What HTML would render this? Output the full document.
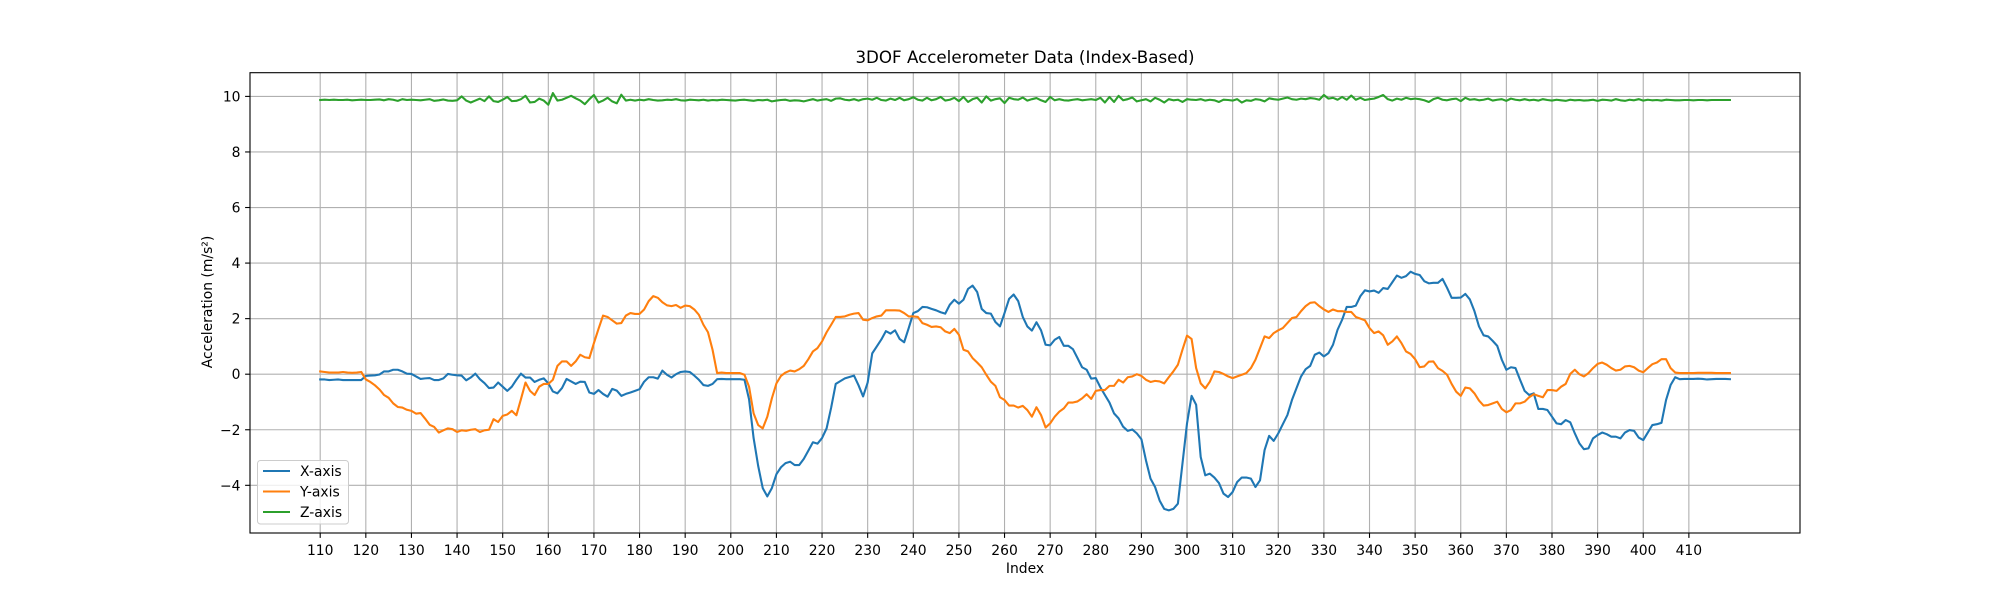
<!DOCTYPE html>
<html><head><meta charset="utf-8"><style>
html,body{margin:0;padding:0;background:#fff;}
svg text{font-family:"DejaVu Sans","Liberation Sans",sans-serif;fill:#000;}
</style></head><body>
<svg id="chart" width="2000" height="600" viewBox="0 0 2000 600" xmlns="http://www.w3.org/2000/svg">
<rect width="2000" height="600" fill="#fff"/>
<g id="grid"></g>
<g id="series"></g>
<rect x="250" y="72.7" width="1550" height="460.3" fill="none" stroke="#000" stroke-width="1.1"/>
<g id="xticks"></g>
<g id="yticks"></g>
<text x="1025" y="63" font-size="16.7" text-anchor="middle">3DOF Accelerometer Data (Index-Based)</text>
<text x="1025" y="573" font-size="13.9" text-anchor="middle">Index</text>
<text x="0" y="0" font-size="13.9" text-anchor="middle" transform="translate(212,302) rotate(-90)">Acceleration (m/s²)</text>
<g>
<rect x="257.5" y="460.5" width="91" height="63.5" rx="3" fill="#fff" fill-opacity="0.8" stroke="#ccc" stroke-width="1"/>
<g><line x1="263" y1="471" x2="290" y2="471" stroke="#1f77b4" stroke-width="2.1"/><text x="300" y="476" font-size="13.9">X-axis</text></g>
<g><line x1="263" y1="491.5" x2="290" y2="491.5" stroke="#ff7f0e" stroke-width="2.1"/><text x="300" y="496.5" font-size="13.9">Y-axis</text></g>
<g><line x1="263" y1="512" x2="290" y2="512" stroke="#2ca02c" stroke-width="2.1"/><text x="300" y="517" font-size="13.9">Z-axis</text></g>
</g>
</svg>
<script>
const startIndex = 110;
const xTicks = [110,120,130,140,150,160,170,180,190,200,210,220,230,240,250,260,270,280,290,300,310,320,330,340,350,360,370,380,390,400,410];
const yTicks = [-4,-2,0,2,4,6,8,10];
const xAxisData = [
-0.19,-0.19,-0.21,-0.2,-0.19,-0.21,-0.21,-0.21,-0.21,-0.21,
-0.06,-0.05,-0.04,-0.01,0.1,0.1,0.16,0.16,0.1,0.02,
0.01,-0.08,-0.17,-0.15,-0.14,-0.21,-0.21,-0.15,0.01,-0.02,
-0.04,-0.05,-0.22,-0.12,0.02,-0.18,-0.32,-0.5,-0.48,-0.3,
-0.45,-0.6,-0.45,-0.2,0.02,-0.12,-0.12,-0.28,-0.2,-0.15,
-0.33,-0.62,-0.69,-0.5,-0.17,-0.26,-0.35,-0.27,-0.28,-0.66,
-0.71,-0.57,-0.71,-0.81,-0.53,-0.59,-0.78,-0.71,-0.66,-0.6,
-0.54,-0.27,-0.11,-0.11,-0.16,0.13,-0.02,-0.12,0,0.08,
0.1,0.08,-0.05,-0.2,-0.39,-0.42,-0.35,-0.18,-0.17,-0.18,
-0.18,-0.18,-0.18,-0.2,-0.9,-2.3,-3.3,-4.1,-4.4,-4.1,
-3.6,-3.35,-3.2,-3.15,-3.27,-3.27,-3.05,-2.75,-2.45,-2.5,
-2.3,-1.95,-1.2,-0.35,-0.25,-0.15,-0.1,-0.05,-0.4,-0.8,
-0.3,0.75,1.0,1.25,1.55,1.46,1.58,1.27,1.15,1.66,
2.2,2.27,2.42,2.41,2.35,2.3,2.23,2.18,2.5,2.68,
2.54,2.68,3.07,3.19,2.96,2.35,2.2,2.18,1.88,1.72,
2.2,2.71,2.87,2.63,2.06,1.72,1.57,1.87,1.58,1.06,
1.04,1.24,1.34,1.02,1.02,0.9,0.58,0.25,0.16,-0.16,
-0.14,-0.47,-0.75,-1.02,-1.41,-1.59,-1.89,-2.04,-1.99,-2.13,
-2.34,-3.1,-3.76,-4.06,-4.55,-4.85,-4.9,-4.85,-4.66,-3.22,
-1.77,-0.78,-1.1,-2.98,-3.64,-3.58,-3.72,-3.92,-4.3,-4.42,
-4.24,-3.88,-3.72,-3.72,-3.76,-4.06,-3.82,-2.73,-2.22,-2.4,
-2.13,-1.8,-1.47,-0.93,-0.5,-0.08,0.18,0.3,0.7,0.78,
0.64,0.76,1.06,1.6,1.96,2.42,2.42,2.47,2.81,3.02,
2.98,3.01,2.93,3.1,3.07,3.31,3.55,3.47,3.53,3.69,
3.61,3.57,3.35,3.27,3.29,3.29,3.43,3.11,2.75,2.75,
2.76,2.89,2.69,2.27,1.72,1.4,1.36,1.2,1.02,0.52,
0.16,0.25,0.22,-0.2,-0.6,-0.75,-0.69,-1.25,-1.25,-1.29,
-1.53,-1.77,-1.8,-1.65,-1.73,-2.13,-2.49,-2.7,-2.67,-2.31,
-2.19,-2.1,-2.16,-2.25,-2.25,-2.31,-2.1,-2.01,-2.04,-2.28,
-2.37,-2.1,-1.83,-1.8,-1.75,-0.93,-0.39,-0.11,-0.18,-0.17,
-0.17,-0.17,-0.16,-0.17,-0.19,-0.18,-0.17,-0.17,-0.17,-0.18];
const yAxisData = [
0.1,0.08,0.06,0.06,0.06,0.08,0.06,0.05,0.06,0.08,
-0.19,-0.28,-0.4,-0.55,-0.75,-0.85,-1.05,-1.18,-1.2,-1.28,
-1.32,-1.42,-1.4,-1.6,-1.82,-1.9,-2.1,-2.02,-1.95,-1.98,
-2.08,-2.02,-2.04,-2.0,-1.98,-2.08,-2.02,-2.0,-1.62,-1.72,
-1.5,-1.45,-1.32,-1.48,-0.9,-0.3,-0.6,-0.75,-0.45,-0.35,
-0.35,-0.2,0.3,0.46,0.46,0.3,0.46,0.7,0.61,0.58,
1.12,1.63,2.11,2.06,1.94,1.82,1.84,2.11,2.2,2.17,
2.17,2.33,2.63,2.81,2.75,2.59,2.48,2.45,2.49,2.39,
2.47,2.45,2.33,2.14,1.78,1.51,0.88,0.04,0.06,0.04,
0.04,0.04,0.04,-0.02,-0.45,-1.41,-1.83,-1.95,-1.53,-0.87,
-0.33,-0.06,0.06,0.13,0.1,0.18,0.3,0.54,0.82,0.94,
1.18,1.51,1.78,2.06,2.06,2.08,2.14,2.18,2.2,1.96,
1.94,2.02,2.08,2.11,2.3,2.3,2.3,2.29,2.2,2.08,
2.08,2.06,1.84,1.78,1.7,1.72,1.69,1.54,1.48,1.63,
1.42,0.88,0.82,0.58,0.42,0.25,-0.02,-0.27,-0.42,-0.83,
-0.93,-1.13,-1.13,-1.2,-1.14,-1.29,-1.53,-1.19,-1.47,-1.92,
-1.77,-1.53,-1.35,-1.23,-1.02,-1.02,-0.98,-0.87,-0.72,-0.89,
-0.6,-0.57,-0.57,-0.42,-0.42,-0.2,-0.3,-0.11,-0.08,0,
-0.06,-0.2,-0.28,-0.24,-0.26,-0.33,-0.11,0.1,0.34,0.88,
1.39,1.27,0.22,-0.33,-0.51,-0.27,0.1,0.08,0.01,-0.08,
-0.14,-0.08,-0.02,0.04,0.22,0.52,0.94,1.36,1.3,1.48,
1.58,1.66,1.84,2.02,2.06,2.27,2.45,2.57,2.59,2.45,
2.33,2.24,2.33,2.27,2.27,2.24,2.24,2.06,2.0,1.94,
1.66,1.48,1.54,1.4,1.06,1.18,1.36,1.12,0.82,0.73,
0.54,0.25,0.28,0.45,0.46,0.22,0.12,-0.02,-0.35,-0.63,
-0.78,-0.48,-0.51,-0.69,-0.95,-1.13,-1.11,-1.05,-0.99,-1.25,
-1.37,-1.29,-1.05,-1.05,-0.99,-0.83,-0.72,-0.78,-0.83,-0.57,
-0.57,-0.6,-0.45,-0.35,0.01,0.16,0,-0.08,0.04,0.22,
0.37,0.42,0.34,0.22,0.13,0.16,0.28,0.3,0.25,0.13,
0.07,0.22,0.36,0.42,0.54,0.54,0.22,0.06,0.04,0.04,
0.04,0.04,0.05,0.05,0.05,0.05,0.04,0.04,0.04,0.04];
const zAxisData = [
9.87,9.88,9.87,9.88,9.87,9.87,9.88,9.86,9.87,9.88,
9.87,9.87,9.88,9.89,9.86,9.9,9.88,9.84,9.9,9.87,
9.88,9.87,9.86,9.88,9.9,9.84,9.86,9.89,9.85,9.84,
9.86,10.0,9.85,9.78,9.85,9.92,9.83,10.0,9.83,9.8,
9.88,9.98,9.83,9.84,9.9,10.02,9.78,9.8,9.92,9.85,
9.7,10.12,9.85,9.88,9.95,10.02,9.93,9.85,9.72,9.9,
10.05,9.78,9.85,9.95,9.82,9.75,10.06,9.85,9.88,9.85,
9.88,9.86,9.9,9.87,9.85,9.86,9.88,9.87,9.9,9.86,
9.85,9.88,9.87,9.86,9.88,9.85,9.87,9.86,9.88,9.87,
9.86,9.85,9.87,9.88,9.86,9.84,9.87,9.86,9.88,9.82,
9.85,9.87,9.88,9.84,9.86,9.85,9.82,9.86,9.9,9.85,
9.88,9.9,9.84,9.92,9.93,9.88,9.86,9.9,9.85,9.9,
9.92,9.88,9.95,9.87,9.85,9.92,9.87,9.95,9.86,9.9,
9.97,9.88,9.85,9.95,9.86,9.9,9.98,9.85,9.88,9.95,
9.83,9.98,9.8,9.9,9.95,9.78,10.0,9.85,9.9,9.93,
9.76,9.95,9.9,9.88,9.96,9.85,9.9,9.94,9.86,9.8,
9.98,9.86,9.9,9.86,9.85,9.88,9.9,9.86,9.88,9.9,
9.87,9.95,9.78,9.98,9.8,10.02,9.86,9.9,9.96,9.82,
9.86,9.9,9.82,9.95,9.88,9.78,9.9,9.86,9.88,9.8,
9.9,9.88,9.87,9.9,9.85,9.88,9.86,9.8,9.88,9.87,
9.85,9.9,9.78,9.86,9.84,9.9,9.88,9.82,9.93,9.9,
9.88,9.92,9.96,9.9,9.88,9.92,9.9,9.94,9.92,9.88,
10.05,9.92,9.95,9.88,9.98,9.88,10.03,9.88,9.95,9.87,
9.9,9.92,9.98,10.05,9.9,9.85,9.92,9.88,9.95,9.9,
9.92,9.9,9.86,9.8,9.9,9.95,9.88,9.86,9.9,9.92,
9.83,9.95,9.88,9.9,9.86,9.88,9.92,9.85,9.88,9.9,
9.84,9.92,9.88,9.86,9.9,9.86,9.88,9.85,9.9,9.87,
9.85,9.88,9.86,9.84,9.88,9.86,9.87,9.85,9.86,9.88,
9.84,9.88,9.87,9.85,9.9,9.86,9.84,9.88,9.86,9.9,
9.85,9.88,9.86,9.87,9.85,9.88,9.87,9.86,9.86,9.87,
9.87,9.86,9.87,9.87,9.86,9.87,9.87,9.87,9.87,9.87];

const NS = 'http://www.w3.org/2000/svg';
const L = 250, R = 1800, T = 72.7, B = 533;
function xScale(i){ return 320.2 + (i - 110) * 4.5622; }
function yScale(v){ return 374.2 - v * 27.78; }
function mk(tag, attrs, parent){ const e = document.createElementNS(NS, tag); for (const k in attrs) e.setAttribute(k, attrs[k]); parent.appendChild(e); return e; }

const grid = document.getElementById('grid');
const xg = document.getElementById('xticks');
const yg = document.getElementById('yticks');
xTicks.forEach(t => {
  const x = xScale(t);
  const gl = mk('line', {x1:x, x2:x, y1:T, y2:B, stroke:'#b0b0b0', 'stroke-width':1.1}, grid);
  
  
  const tk = mk('line', {x1:x, x2:x, y1:B, y2:B+4.9, stroke:'#000', 'stroke-width':1.1}, xg);
  
  
  const tx = mk('text', {x:x, y:B+22, 'font-size':13.9, 'text-anchor':'middle'}, xg);
  tx.textContent = t;
  
  
});
yTicks.forEach(t => {
  const y = yScale(t);
  const gl = mk('line', {x1:L, x2:R, y1:y, y2:y, stroke:'#b0b0b0', 'stroke-width':1.1}, grid);
  
  
  const tk = mk('line', {x1:L-4.9, x2:L, y1:y, y2:y, stroke:'#000', 'stroke-width':1.1}, yg);
  
  
  const tx = mk('text', {x:L-9.5, y:y+5, 'font-size':13.9, 'text-anchor':'end'}, yg);
  tx.textContent = t < 0 ? '\u2212' + Math.abs(t) : String(t);
  
  
});
const sg = document.getElementById('series');
[[xAxisData,'#1f77b4','x-axis-line'],[yAxisData,'#ff7f0e','y-axis-line'],[zAxisData,'#2ca02c','z-axis-line']].forEach(([arr,col,name]) => {
  const d = arr.map((v,k) => (k ? 'L' : 'M') + xScale(startIndex + k).toFixed(2) + ' ' + yScale(v).toFixed(2)).join(' ');
  const p = mk('path', {d:d, fill:'none', stroke:col, 'stroke-width':2.1, 'stroke-linejoin':'round', 'stroke-linecap':'square'}, sg);
  
  
});
</script>
</body></html>
